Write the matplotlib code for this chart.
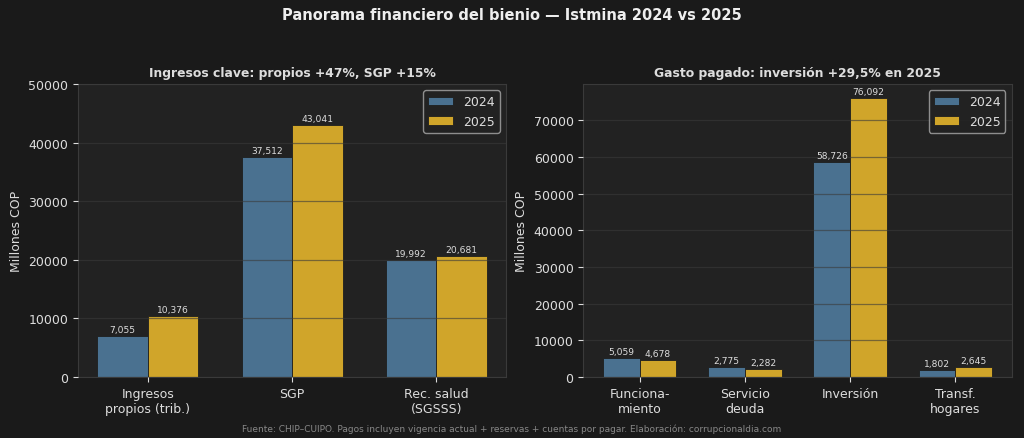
import numpy as np
import matplotlib.pyplot as plt

# datos (millones COP)
ing_cats = ["Ingresos\npropios (trib.)", "SGP", "Rec. salud\n(SGSSS)"]
ing_2024 = [7055, 37512, 19992]
ing_2025 = [10376, 43041, 20681]

gas_cats = ["Funciona-\nmiento", "Servicio\ndeuda", "Inversión", "Transf.\nhogares"]
gas_2024 = [5059, 2775, 58726, 1802]
gas_2025 = [4678, 2282, 76092, 2645]

years = ["2024", "2025"]

BG = "#1a1a1a"
AX_BG = "#222222"
C24 = "#4a7190"
C25 = "#d0a52a"
TXT = "#dddddd"

plt.rcParams["font.family"] = ["DejaVu Sans"]

def grouped(ax, cats, v1, v2, title, ylim=None):
    x = np.arange(len(cats))
    w = 0.35
    b1 = ax.bar(x - w/2, v1, w, color=C24, edgecolor="#1e1e1e", linewidth=0.6, label=years[0])
    b2 = ax.bar(x + w/2, v2, w, color=C25, edgecolor="#1e1e1e", linewidth=0.6, label=years[1])
    for bars in (b1, b2):
        for r in bars:
            ax.annotate(f"{int(r.get_height()):,}",
                        (r.get_x() + r.get_width()/2, r.get_height()),
                        xytext=(0, 1.5), textcoords="offset points",
                        ha="center", va="bottom", fontsize=6.6, color=TXT)
    ax.set_xticks(x)
    ax.set_xticklabels(cats)
    ax.set_facecolor(AX_BG)
    ax.set_title(title, fontsize=8.9, fontweight="bold", color=TXT, pad=6)
    ax.set_ylabel("Millones COP", color=TXT, fontsize=9)
    ax.tick_params(colors=TXT, labelsize=9)
    for s in ax.spines.values():
        s.set_color("#3a3a3a")
    ax.yaxis.grid(True, color="#3a3a3a", alpha=0.6, linewidth=0.9)
    ax.set_axisbelow(False)
    if ylim:
        ax.set_ylim(*ylim)
    leg = ax.legend(loc="upper right", fontsize=9, facecolor=AX_BG, edgecolor="#aaaaaa")
    for t in leg.get_texts():
        t.set_color(TXT)

fig, (ax1, ax2) = plt.subplots(1, 2, figsize=(10.24, 4.39), dpi=100)
fig.patch.set_facecolor(BG)
fig.subplots_adjust(left=0.076, right=0.988, top=0.806, bottom=0.139, wspace=0.18)

grouped(ax1, ing_cats, ing_2024, ing_2025, "Ingresos clave: propios +47%, SGP +15%", ylim=(0, 50000))
grouped(ax2, gas_cats, gas_2024, gas_2025, "Gasto pagado: inversión +29,5% en 2025")

fig.suptitle("Panorama financiero del bienio — Istmina 2024 vs 2025",
             fontsize=10.5, fontweight="bold", color="#eeeeee", y=0.982)
fig.text(0.5, 0.012, "Fuente: CHIP–CUIPO. Pagos incluyen vigencia actual + reservas + cuentas por pagar. Elaboración: corrupcionaldia.com",
         ha="center", va="bottom", fontsize=6.5, color="#888888")

fig.savefig("out.png", dpi=100, facecolor=BG)
